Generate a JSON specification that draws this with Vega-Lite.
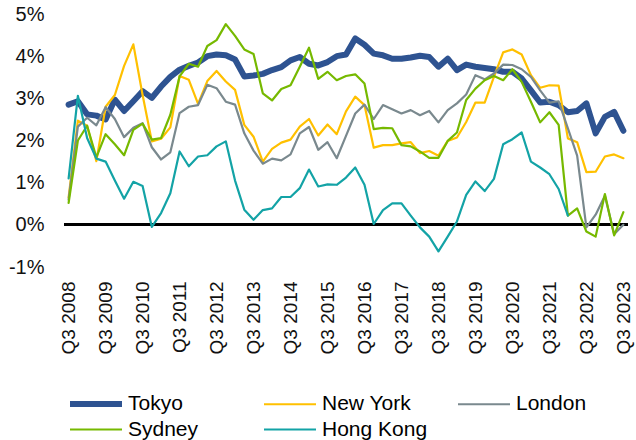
{
  "$schema": "https://vega.github.io/schema/vega-lite/v6.json",
  "width": 564,
  "height": 253,
  "autosize": "none",
  "padding": {"left": 64, "top": 14, "right": 8, "bottom": 173},
  "background": "white",
  "config": {"view": {"stroke": null}, "font": "Liberation Sans"},
  "data": {"values": [
    {"q": "Q3 2008", "Tokyo": 2.85, "New York": 0.65, "London": 0.6, "Sydney": 0.52, "Hong Kong": 1.10},
    {"q": "Q4 2008", "Tokyo": 2.93, "New York": 2.47, "London": 2.33, "Sydney": 2.0, "Hong Kong": 3.06},
    {"q": "Q1 2009", "Tokyo": 2.62, "New York": 2.35, "London": 2.54, "Sydney": 2.35, "Hong Kong": 2.06},
    {"q": "Q2 2009", "Tokyo": 2.59, "New York": 1.51, "London": 2.36, "Sydney": 1.6, "Hong Kong": 1.57},
    {"q": "Q3 2009", "Tokyo": 2.50, "New York": 2.80, "London": 2.79, "Sydney": 2.15, "Hong Kong": 1.50},
    {"q": "Q4 2009", "Tokyo": 2.97, "New York": 3.08, "London": 2.51, "Sydney": 1.91, "Hong Kong": 1.05},
    {"q": "Q1 2010", "Tokyo": 2.70, "New York": 3.77, "London": 2.08, "Sydney": 1.65, "Hong Kong": 0.62},
    {"q": "Q2 2010", "Tokyo": 2.93, "New York": 4.28, "London": 2.30, "Sydney": 2.25, "Hong Kong": 1.02},
    {"q": "Q3 2010", "Tokyo": 3.17, "New York": 3.08, "London": 2.41, "Sydney": 2.40, "Hong Kong": 0.92},
    {"q": "Q4 2010", "Tokyo": 3.01, "New York": 1.98, "London": 1.84, "Sydney": 2.02, "Hong Kong": -0.05},
    {"q": "Q1 2011", "Tokyo": 3.28, "New York": 2.04, "London": 1.55, "Sydney": 2.06, "Hong Kong": 0.28},
    {"q": "Q2 2011", "Tokyo": 3.51, "New York": 2.31, "London": 1.72, "Sydney": 2.61, "Hong Kong": 0.75},
    {"q": "Q3 2011", "Tokyo": 3.68, "New York": 3.53, "London": 2.65, "Sydney": 3.52, "Hong Kong": 1.74},
    {"q": "Q4 2011", "Tokyo": 3.77, "New York": 3.44, "London": 2.80, "Sydney": 3.82, "Hong Kong": 1.39},
    {"q": "Q1 2012", "Tokyo": 3.85, "New York": 2.87, "London": 2.84, "Sydney": 3.75, "Hong Kong": 1.62},
    {"q": "Q2 2012", "Tokyo": 4.0, "New York": 3.41, "London": 3.32, "Sydney": 4.24, "Hong Kong": 1.65},
    {"q": "Q3 2012", "Tokyo": 4.04, "New York": 3.65, "London": 3.24, "Sydney": 4.38, "Hong Kong": 1.86},
    {"q": "Q4 2012", "Tokyo": 4.02, "New York": 3.40, "London": 2.92, "Sydney": 4.76, "Hong Kong": 1.98},
    {"q": "Q1 2013", "Tokyo": 3.92, "New York": 3.20, "London": 2.85, "Sydney": 4.48, "Hong Kong": 1.05},
    {"q": "Q2 2013", "Tokyo": 3.52, "New York": 2.37, "London": 2.17, "Sydney": 4.16, "Hong Kong": 0.36},
    {"q": "Q3 2013", "Tokyo": 3.54, "New York": 2.09, "London": 1.76, "Sydney": 4.05, "Hong Kong": 0.12},
    {"q": "Q4 2013", "Tokyo": 3.58, "New York": 1.50, "London": 1.45, "Sydney": 3.12, "Hong Kong": 0.35},
    {"q": "Q1 2014", "Tokyo": 3.67, "New York": 1.80, "London": 1.57, "Sydney": 2.95, "Hong Kong": 0.39},
    {"q": "Q2 2014", "Tokyo": 3.74, "New York": 1.95, "London": 1.53, "Sydney": 3.22, "Hong Kong": 0.66},
    {"q": "Q3 2014", "Tokyo": 3.90, "New York": 2.02, "London": 1.67, "Sydney": 3.31, "Hong Kong": 0.66},
    {"q": "Q4 2014", "Tokyo": 3.98, "New York": 2.33, "London": 2.17, "Sydney": 3.75, "Hong Kong": 0.87},
    {"q": "Q1 2015", "Tokyo": 3.82, "New York": 2.51, "London": 2.32, "Sydney": 4.20, "Hong Kong": 1.31},
    {"q": "Q2 2015", "Tokyo": 3.78, "New York": 2.12, "London": 1.78, "Sydney": 3.46, "Hong Kong": 0.91},
    {"q": "Q3 2015", "Tokyo": 3.86, "New York": 2.38, "London": 1.96, "Sydney": 3.63, "Hong Kong": 0.96},
    {"q": "Q4 2015", "Tokyo": 4.0, "New York": 2.15, "London": 1.58, "Sydney": 3.43, "Hong Kong": 0.95},
    {"q": "Q1 2016", "Tokyo": 4.04, "New York": 2.69, "London": 2.11, "Sydney": 3.53, "Hong Kong": 1.12},
    {"q": "Q2 2016", "Tokyo": 4.42, "New York": 3.04, "London": 2.64, "Sydney": 3.57, "Hong Kong": 1.36},
    {"q": "Q3 2016", "Tokyo": 4.27, "New York": 2.84, "London": 2.85, "Sydney": 3.35, "Hong Kong": 0.95},
    {"q": "Q4 2016", "Tokyo": 4.06, "New York": 1.83, "London": 2.51, "Sydney": 2.27, "Hong Kong": 0.02},
    {"q": "Q1 2017", "Tokyo": 4.02, "New York": 1.89, "London": 2.84, "Sydney": 2.30, "Hong Kong": 0.35},
    {"q": "Q2 2017", "Tokyo": 3.94, "New York": 1.89, "London": 2.74, "Sydney": 2.29, "Hong Kong": 0.51},
    {"q": "Q3 2017", "Tokyo": 3.94, "New York": 1.93, "London": 2.64, "Sydney": 1.89, "Hong Kong": 0.51},
    {"q": "Q4 2017", "Tokyo": 3.97, "New York": 1.96, "London": 2.72, "Sydney": 1.86, "Hong Kong": 0.22},
    {"q": "Q1 2018", "Tokyo": 4.01, "New York": 1.70, "London": 2.60, "Sydney": 1.74, "Hong Kong": -0.06},
    {"q": "Q2 2018", "Tokyo": 3.98, "New York": 1.75, "London": 2.70, "Sydney": 1.59, "Hong Kong": -0.28},
    {"q": "Q3 2018", "Tokyo": 3.75, "New York": 1.64, "London": 2.43, "Sydney": 1.59, "Hong Kong": -0.63},
    {"q": "Q4 2018", "Tokyo": 3.94, "New York": 1.99, "London": 2.72, "Sydney": 1.99, "Hong Kong": -0.28},
    {"q": "Q1 2019", "Tokyo": 3.67, "New York": 2.07, "London": 2.88, "Sydney": 2.19, "Hong Kong": 0.08},
    {"q": "Q2 2019", "Tokyo": 3.80, "New York": 2.44, "London": 3.09, "Sydney": 2.96, "Hong Kong": 0.71},
    {"q": "Q3 2019", "Tokyo": 3.75, "New York": 2.90, "London": 3.55, "Sydney": 3.23, "Hong Kong": 1.03},
    {"q": "Q4 2019", "Tokyo": 3.72, "New York": 2.90, "London": 3.45, "Sydney": 3.43, "Hong Kong": 0.80},
    {"q": "Q1 2020", "Tokyo": 3.69, "New York": 3.51, "London": 3.59, "Sydney": 3.53, "Hong Kong": 1.09},
    {"q": "Q2 2020", "Tokyo": 3.63, "New York": 4.09, "London": 3.80, "Sydney": 3.43, "Hong Kong": 1.91},
    {"q": "Q3 2020", "Tokyo": 3.63, "New York": 4.16, "London": 3.79, "Sydney": 3.69, "Hong Kong": 2.03},
    {"q": "Q4 2020", "Tokyo": 3.47, "New York": 4.04, "London": 3.69, "Sydney": 3.39, "Hong Kong": 2.19},
    {"q": "Q1 2021", "Tokyo": 3.19, "New York": 3.55, "London": 3.51, "Sydney": 2.92, "Hong Kong": 1.50},
    {"q": "Q2 2021", "Tokyo": 2.90, "New York": 3.25, "London": 3.19, "Sydney": 2.43, "Hong Kong": 1.36},
    {"q": "Q3 2021", "Tokyo": 2.92, "New York": 3.31, "London": 2.90, "Sydney": 2.67, "Hong Kong": 1.20},
    {"q": "Q4 2021", "Tokyo": 2.84, "New York": 3.30, "London": 2.93, "Sydney": 2.37, "Hong Kong": 0.85},
    {"q": "Q1 2022", "Tokyo": 2.67, "New York": 2.05, "London": 2.29, "Sydney": 0.22, "Hong Kong": 0.22},
    {"q": "Q2 2022", "Tokyo": 2.70, "New York": 1.96, "London": 1.64, "Sydney": 0.39, "Hong Kong": null},
    {"q": "Q3 2022", "Tokyo": 2.88, "New York": 1.25, "London": -0.06, "Sydney": -0.16, "Hong Kong": null},
    {"q": "Q4 2022", "Tokyo": 2.17, "New York": 1.26, "London": 0.24, "Sydney": -0.28, "Hong Kong": null},
    {"q": "Q1 2023", "Tokyo": 2.56, "New York": 1.62, "London": 0.69, "Sydney": 0.73, "Hong Kong": null},
    {"q": "Q2 2023", "Tokyo": 2.68, "New York": 1.67, "London": -0.22, "Sydney": -0.25, "Hong Kong": null},
    {"q": "Q3 2023", "Tokyo": 2.23, "New York": 1.58, "London": 0.0, "Sydney": 0.30, "Hong Kong": null}
  ]},
  "layer": [
    {
      "mark": {"type": "rule", "color": "#000000", "strokeWidth": 2},
      "encoding": {"y": {"datum": 0, "type": "quantitative", "scale": {"domain": [-1, 5], "nice": false}}}
    },
    {
      "transform": [{"fold": ["Tokyo", "New York", "London", "Sydney", "Hong Kong"], "as": ["city", "v"]}],
      "mark": {"type": "line", "strokeJoin": "round", "strokeCap": "round"},
      "encoding": {
        "x": {
          "field": "q", "type": "ordinal", "sort": null,
          "scale": {"type": "point", "padding": 0.5},
          "axis": {
            "values": ["Q3 2008","Q3 2009","Q3 2010","Q3 2011","Q3 2012","Q3 2013","Q3 2014","Q3 2015","Q3 2016","Q3 2017","Q3 2018","Q3 2019","Q3 2020","Q3 2021","Q3 2022","Q3 2023"],
            "title": null, "labelAngle": -90, "domain": false, "ticks": false, "grid": false,
            "labelFontSize": 19, "labelColor": "#111111", "labelPadding": 14, "labelFont": "Liberation Sans"
          }
        },
        "y": {
          "field": "v", "type": "quantitative",
          "scale": {"domain": [-1, 5], "nice": false},
          "axis": {
            "values": [-1, 0, 1, 2, 3, 4, 5], "labelExpr": "datum.value + '%'",
            "title": null, "domain": false, "ticks": false,
            "labelFontSize": 20, "labelColor": "#111111", "labelPadding": 20, "labelFont": "Liberation Sans",
            "gridColor": "#D9D5D0", "gridWidth": 2
          }
        },
        "color": {
          "field": "city", "type": "nominal",
          "scale": {"domain": ["Tokyo", "New York", "London", "Sydney", "Hong Kong"],
                    "range": ["#2E5391", "#FFC000", "#7A898E", "#76B900", "#13A3A6"]},
          "legend": {
            "orient": "none", "legendX": 3, "legendY": 375, "direction": "horizontal",
            "columns": 3, "gridAlign": "all", "columnPadding": 25, "rowPadding": 0,
            "title": null, "symbolType": "M-1,0H3.3333", "symbolSize": 576,
            "labelFontSize": 21, "labelOffset": 31, "labelColor": "#000000", "labelFont": "Liberation Sans", "labelLimit": 300
          }
        },
        "strokeWidth": {
          "field": "city", "type": "nominal",
          "scale": {"type": "ordinal", "domain": ["Tokyo", "New York", "London", "Sydney", "Hong Kong"], "range": [6, 2.2, 2.2, 2.2, 2.2]},
          "legend": {
            "orient": "none", "legendX": 3, "legendY": 375, "direction": "horizontal",
            "columns": 3, "gridAlign": "all", "columnPadding": 25, "rowPadding": 0,
            "title": null, "symbolType": "M-1,0H3.3333", "symbolSize": 576,
            "labelFontSize": 21, "labelOffset": 31, "labelColor": "#000000", "labelFont": "Liberation Sans", "labelLimit": 300
          }
        }
      }
    }
  ]
}
